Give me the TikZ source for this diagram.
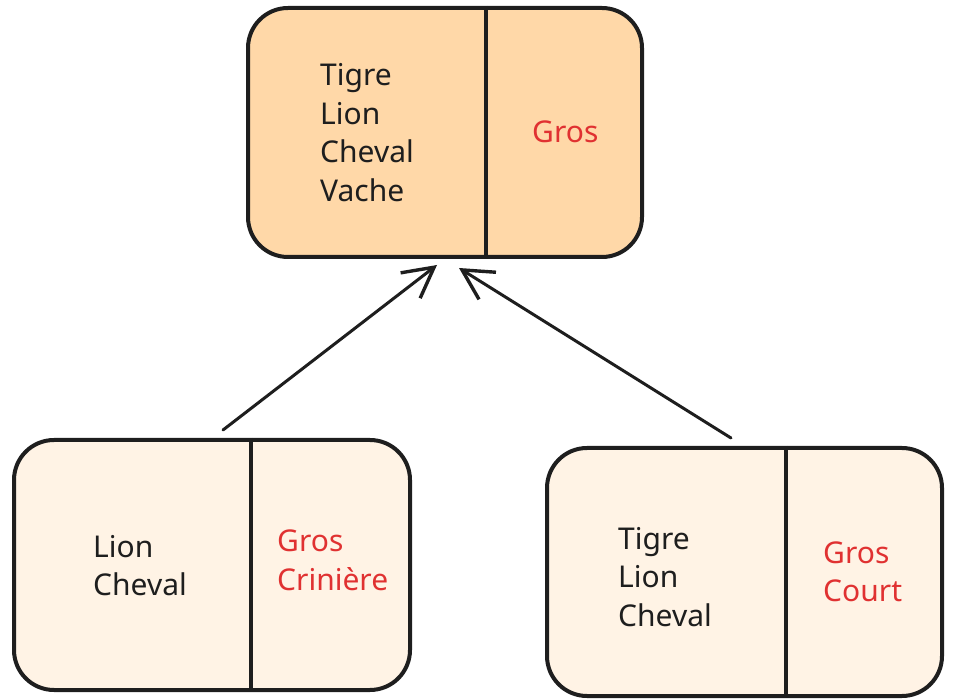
\documentclass[tikz,border=0pt]{standalone}
\usepackage{fontspec}
\setmainfont{Noto Sans}
\usetikzlibrary{arrows.meta,calc}
\definecolor{inkc}{HTML}{1E1E1E}
\definecolor{redc}{HTML}{E03131}
\definecolor{topfill}{HTML}{FFD8A8}
\definecolor{lowfill}{HTML}{FFF3E5}
\tikzset{
  box/.style={draw=inkc, line width=4pt, rounded corners=40pt, inner sep=0pt},
  divider/.style={draw=inkc, line width=4pt},
  words/.style={anchor=west, align=left, inner sep=0pt, text=inkc,
    font=\fontsize{30}{38.5}\selectfont},
  tags/.style={words, text=redc},
  arr/.style={draw=inkc, line width=3pt, line cap=round,
    -{Straight Barb[length=30pt,width=32pt,line width=3.4pt]}}
}
\begin{document}
\begin{tikzpicture}[x=1pt,y=1pt]
\useasboundingbox (0,0) rectangle (953,699);
% upper box
\node[box, fill=topfill, minimum width=394pt, minimum height=249pt] (top) at (445,566.5) {};
\draw[divider] (top.north -| 486,0) -- (top.south -| 486,0);
\node[words] (topl) at (320,566.5) {Tigre\\Lion\\Cheval\\Vache};
\node[tags] (topr) at (532,567) {Gros};
% lower left box
\node[box, fill=lowfill, minimum width=396pt, minimum height=250pt] (bl) at (212,134) {};
\draw[divider] (bl.north -| 251,0) -- (bl.south -| 251,0);
\node[words] (bll) at (93,133.5) {Lion\\Cheval};
\node[tags] (blr) at (277,138.5) {Gros\\Crinière};
% lower right box
\node[box, fill=lowfill, minimum width=395pt, minimum height=248pt] (br) at (744.5,127) {};
\draw[divider] (br.north -| 786,0) -- (br.south -| 786,0);
\node[words] (brl) at (618,122) {Tigre\\Lion\\Cheval};
\node[tags] (brr) at (823,127) {Gros\\Court};
% arrows
\draw[arr] ($(bl.north)+(11,8)$) -- ($(top.south)+(-8,-6)$);
\draw[arr] ($(br.north)+(-13.5,8)$) -- ($(top.south)+(14,-9)$);
\end{tikzpicture}
\end{document}
